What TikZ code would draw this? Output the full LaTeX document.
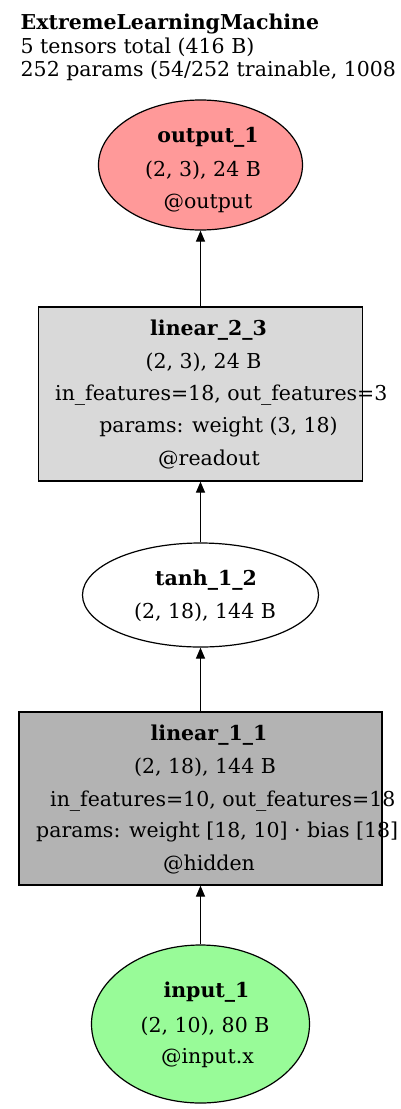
\documentclass[tikz,border=0pt]{standalone}
\usepackage{fontspec}
\setmainfont{DejaVu Serif}
\usetikzlibrary{arrows.meta,shapes.geometric}
\definecolor{outfill}{RGB}{255,153,153}
\definecolor{infill}{RGB}{152,251,152}
\definecolor{lintwo}{RGB}{217,217,217}
\definecolor{linone}{RGB}{179,179,179}
\tikzset{
  shp/.style={draw=black, line width=1.2pt, inner sep=0pt},
  lbl/.style={anchor=base, inner sep=0pt, font=\fontsize{20.5}{23}\selectfont},
  lblw/.style={lbl, anchor=base west},
  bl/.style={anchor=base, inner sep=0pt, font=\fontsize{20.5}{23}\selectfont\bfseries},
  edge/.style={-{Triangle[length=11pt,width=9pt]}, line width=1.2pt},
  ttl/.style={anchor=base west, inner sep=0pt, font=\fontsize{20.5}{23}\selectfont}
}
\begin{document}
\begin{tikzpicture}[x=1pt,y=-1pt]
\useasboundingbox (0,0) rectangle (400,1109);
\clip (0,0) rectangle (400,1109);
\fill[white] (0,0) rectangle (400,1109);
% title
\node[ttl, font=\fontsize{20.5}{23}\selectfont\bfseries] (t1) at (20.5,29) {ExtremeLearningMachine};
\node[ttl] (t2) at (20.5,53) {5 tensors total (416 B)};
\node[ttl] (t3) at (20.5,76) {252 params (54/252 trainable, 1008 B)};
% shapes
\node[shp, ellipse, fill=outfill, minimum width=204pt, minimum height=130pt] (out) at (200.5,165) {};
\node[shp, rectangle, fill=lintwo, minimum width=324pt, minimum height=174pt] (lin2) at (200.5,394) {};
\node[shp, ellipse, fill=white, minimum width=236pt, minimum height=104pt] (tanh) at (200.5,595) {};
\node[shp, rectangle, fill=linone, minimum width=363pt, minimum height=173pt] (lin1) at (200.5,798.5) {};
\node[shp, ellipse, fill=infill, minimum width=218pt, minimum height=158pt] (inp) at (200.5,1024) {};
% edges
\draw[edge] (lin2.north) -- (out.south);
\draw[edge] (tanh.north) -- (lin2.south);
\draw[edge] (lin1.north) -- (tanh.south);
\draw[edge] (inp.north) -- (lin1.south);
% labels output
\node[bl] (outa) at (208,142) {output\_1};
\node[lbl] (outb) at (203,176) {(2, 3), 24 B};
\node[lbl] (outc) at (208,208) {@output};
% labels linear_2_3
\node[bl] (l2a) at (208.5,335) {linear\_2\_3};
\node[lbl] (l2b) at (203.5,368) {(2, 3), 24 B};
\node[lblw] (l2c) at (55,400) {in\_features=18, out\_features=3};
\node[lbl] (l2d) at (218.5,432) {params: weight (3, 18)};
\node[lbl] (l2e) at (209,465) {@readout};
% labels tanh
\node[bl] (tha) at (206,585) {tanh\_1\_2};
\node[lbl] (thb) at (205,618) {(2, 18), 144 B};
% labels linear_1_1
\node[bl] (l1a) at (209,740) {linear\_1\_1};
\node[lbl] (l1b) at (205,773) {(2, 18), 144 B};
\node[lblw] (l1c) at (50,806) {in\_features=10, out\_features=18};
\node[lblw] (l1d) at (36,837) {params: weight [18, 10] · bias [18]};
\node[lbl] (l1e) at (209,870) {@hidden};
% labels input
\node[bl] (ina) at (206.5,997) {input\_1};
\node[lbl] (inb) at (205,1032) {(2, 10), 80 B};
\node[lbl] (inc) at (207.5,1063) {@input.x};
\end{tikzpicture}
\end{document}
